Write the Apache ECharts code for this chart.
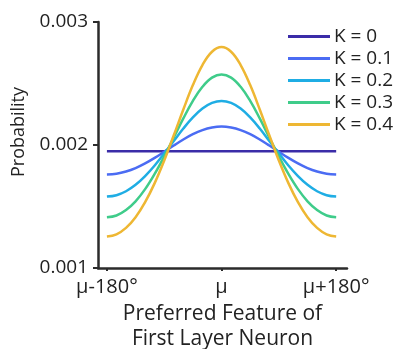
<!DOCTYPE html>
<html>
<head>
<meta charset="utf-8">
<script src="https://cdn.jsdelivr.net/npm/echarts@6/dist/echarts.min.js"></script>
<style>
  html, body { margin: 0; padding: 0; background: #fff; }
  #chart { width: 393px; height: 349px; }
</style>
</head>
<body>
<div id="chart"></div>
<script>
// feature offset from preferred value (degrees)
const angles = [-180, -165, -150, -135, -120, -105, -90, -75, -60, -45, -30, -15, 0, 15, 30, 45, 60, 75, 90, 105, 120, 135, 150, 165, 180]
const kLabels = ['K = 0', 'K = 0.1', 'K = 0.2', 'K = 0.3', 'K = 0.4']
const k0 = angles.map(() => 0.00195) // flat
const k01 = [0.001760, 0.001766, 0.001784, 0.001812, 0.001850, 0.001895, 0.001945, 0.001996, 0.002045, 0.002088, 0.002121, 0.002142, 0.002150, 0.002142, 0.002121, 0.002088, 0.002045, 0.001996, 0.001945, 0.001895, 0.001850, 0.001812, 0.001784, 0.001766, 0.001760]
const k02 = [0.001581, 0.001592, 0.001624, 0.001676, 0.001747, 0.001833, 0.001931, 0.002033, 0.002134, 0.002224, 0.002296, 0.002342, 0.002358, 0.002342, 0.002296, 0.002224, 0.002134, 0.002033, 0.001931, 0.001833, 0.001747, 0.001676, 0.001624, 0.001592, 0.001581]
const k03 = [0.001413, 0.001427, 0.001471, 0.001542, 0.001641, 0.001765, 0.001907, 0.002061, 0.002216, 0.002358, 0.002473, 0.002548, 0.002574, 0.002548, 0.002473, 0.002358, 0.002216, 0.002061, 0.001907, 0.001765, 0.001641, 0.001542, 0.001471, 0.001427, 0.001413]
const k04 = [0.001256, 0.001274, 0.001326, 0.001413, 0.001535, 0.001690, 0.001874, 0.002079, 0.002289, 0.002487, 0.002650, 0.002758, 0.002796, 0.002758, 0.002650, 0.002487, 0.002289, 0.002079, 0.001874, 0.001690, 0.001535, 0.001413, 0.001326, 0.001274, 0.001256]
const xTicks = [-180, 0, 180]
const xTickLabels = { '-180': 'μ-180°', '0': 'μ', '180': 'μ+180°' }

const colors = ['#3b2ca8', '#4b6cf3', '#1fade4', '#3fcc8a', '#eeb733']
const seriesData = [k0, k01, k02, k03, k04]

const chart = echarts.init(document.getElementById('chart'))
const font = '"Open Sans", sans-serif'

chart.setOption({
  animation: false,
  grid: { left: 98, right: 46, top: 22, bottom: 81, outerBoundsMode: 'none', containLabel: false },
  legend: {
    left: 283,
    top: 22,
    orient: 'vertical',
    itemWidth: 42,
    itemHeight: 3,
    itemGap: 3,
    icon: 'rect',
    textStyle: { fontFamily: font, fontSize: 19, color: '#222', padding: [0, 0, 0, -1] },
    data: kLabels
  },
  xAxis: {
    type: 'value',
    min: -194,
    max: 197,
    name: 'Preferred Feature of\nFirst Layer Neuron',
    nameLocation: 'middle',
    nameGap: 32,
    nameTextStyle: { fontFamily: font, fontSize: 21, color: '#222', lineHeight: 25 },
    axisLine: { onZero: false, lineStyle: { color: '#2b2b2b', width: 2.5 } },
    axisTick: { show: true, customValues: xTicks, length: 3, lineStyle: { color: '#2b2b2b', width: 2 } },
    axisLabel: {
      customValues: xTicks,
      formatter: v => xTickLabels[String(v)],
      fontFamily: font, fontSize: 20, color: '#222', margin: 9
    },
    splitLine: { show: false }
  },
  yAxis: {
    type: 'value',
    min: 0.001,
    max: 0.003,
    interval: 0.001,
    name: 'Probability',
    nameLocation: 'middle',
    nameGap: 70,
    nameTextStyle: { fontFamily: font, fontSize: 18, color: '#222', padding: [0, 0, 0, 26] },
    axisLine: { show: true, onZero: false, lineStyle: { color: '#2b2b2b', width: 2.5 } },
    axisTick: { show: true, length: 5, lineStyle: { color: '#2b2b2b', width: 2 } },
    axisLabel: { fontFamily: font, fontSize: 19, color: '#222', margin: 10, formatter: v => v.toFixed(3) },
    splitLine: { show: false }
  },
  series: seriesData.map((d, i) => ({
    name: kLabels[i],
    type: 'line',
    smooth: 0.4,
    showSymbol: false,
    data: angles.map((a, j) => [a, d[j]]),
    lineStyle: { color: colors[i], width: 2.5 },
    itemStyle: { color: colors[i] }
  }))
})
</script>
</body>
</html>
